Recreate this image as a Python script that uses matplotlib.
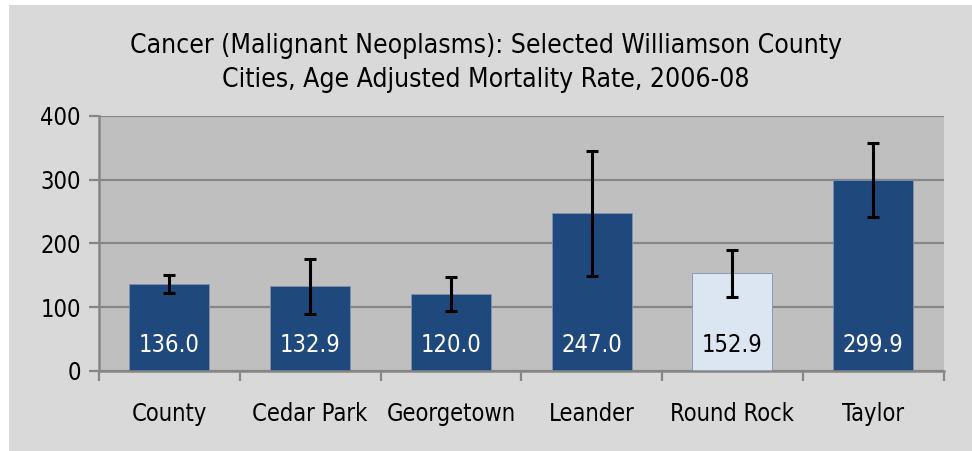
import matplotlib
matplotlib.use("Agg")
import matplotlib.pyplot as plt
from matplotlib.patches import Rectangle
import numpy as np

cities = ["County", "Cedar Park", "Georgetown", "Leander", "Round Rock", "Taylor"]
rates = [136.0, 132.9, 120.0, 247.0, 152.9, 299.9]
ci_low = [122, 90, 94, 149, 116, 242]
ci_high = [150, 176, 147, 344, 190, 357]
bar_colors = ["#1F497D", "#1F497D", "#1F497D", "#1F497D", "#DCE6F2", "#1F497D"]
label_colors = ["white", "white", "white", "white", "black", "white"]

plt.rcParams["font.family"] = ["DejaVu Sans"]
plt.rcParams["font.stretch"] = "condensed"

fig = plt.figure(figsize=(9.72, 4.51), dpi=100, facecolor="white")
fig.patches.append(Rectangle((9 / 972, 0), 1, (451 - 5) / 451, transform=fig.transFigure,
                             facecolor="#D9D9D9", edgecolor="none", zorder=0))
ax = fig.add_axes([99 / 972, 80 / 451, 844.5 / 972, 255.3 / 451])
ax.set_zorder(2)
ax.set_facecolor("#BFBFBF")

x = np.arange(len(cities))
err = [np.array(rates) - np.array(ci_low), np.array(ci_high) - np.array(rates)]
ax.bar(x, rates, width=0.57, color=bar_colors, edgecolor="#7F93AE", linewidth=0.6, zorder=2)
ax.errorbar(x, rates, yerr=err, fmt="none", ecolor="black", elinewidth=2.2,
            capsize=4.5, capthick=2.2, zorder=3)
for xi, v, c in zip(x, rates, label_colors):
    ax.text(xi, 40, f"{v:.1f}", ha="center", va="center", color=c, fontsize=17, zorder=4)

ax.set_xlim(-0.5, len(cities) - 0.5)
ax.set_ylim(0, 400)
ax.set_yticks([0, 100, 200, 300, 400])
ax.yaxis.grid(True, color="#868686", linewidth=1.6, zorder=1)
ax.set_axisbelow(True)

ax.set_xticks(np.arange(-0.5, len(cities)), minor=False)
ax.set_xticklabels([])
ax.set_xticks(x, minor=True)
ax.set_xticklabels(cities, minor=True, fontsize=17)
ax.tick_params(axis="x", which="minor", length=0, pad=22)
ax.tick_params(axis="x", which="major", length=7, width=1.6, color="#868686")
ax.tick_params(axis="y", length=7, width=1.6, color="#868686", labelsize=17, pad=6)

for s in ["top", "right"]:
    ax.spines[s].set_visible(False)
for s in ["left", "bottom"]:
    ax.spines[s].set_color("#868686")
    ax.spines[s].set_linewidth(1.8)

fig.text(0.5, 0.86, "Cancer (Malignant Neoplasms): Selected Williamson County\nCities, Age Adjusted Mortality Rate, 2006-08",
         ha="center", va="center", fontsize=19, linespacing=1.38)

fig.savefig("out.png", dpi=100, facecolor=fig.get_facecolor())
